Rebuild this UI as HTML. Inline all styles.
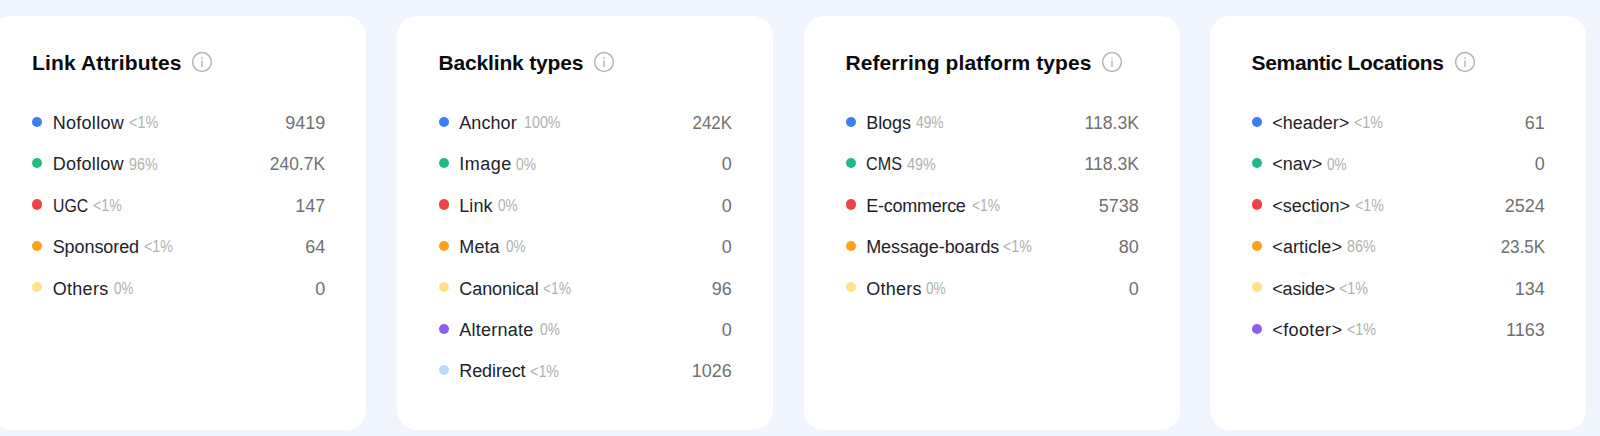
<!DOCTYPE html>
<html><head><meta charset="utf-8"><style>
html,body{margin:0;padding:0;}
body{width:1600px;height:436px;overflow:hidden;background:#f0f4fc;position:relative;font-family:"Liberation Sans",sans-serif;}
.card{position:absolute;top:15.5px;width:375.6px;height:414.8px;background:#fff;border-radius:20px;}
.t{position:absolute;font-weight:bold;font-size:21px;line-height:24px;color:#0b0b0f;white-space:nowrap;}
.ic{position:absolute;width:24px;height:24px;}
.d{position:absolute;width:10.3px;height:10.3px;border-radius:50%;}
.lb{position:absolute;transform-origin:0 50%;font-size:18px;line-height:22px;color:#22232a;white-space:nowrap;}
.pc{position:absolute;font-size:16.5px;line-height:22px;color:#b0b0b0;white-space:nowrap;transform-origin:0 50%;}
.nm{position:absolute;transform-origin:100% 50%;font-size:18px;line-height:22px;color:#707070;white-space:nowrap;text-align:right;width:120px;}
</style></head><body>

<div class="card" style="left:-9.30px"></div>
<div class="t" style="left:32.00px;top:50.7px;letter-spacing:0.143px">Link Attributes</div>
<svg class="ic" style="left:189.85px;top:49.85px" viewBox="0 0 24 24"><circle cx="12" cy="12" r="9.4" fill="none" stroke="#b3b6bb" stroke-width="1.5"/><line x1="12" y1="10.6" x2="12" y2="17" stroke="#b3b6bb" stroke-width="1.5"/><circle cx="12" cy="8.1" r="0.85" fill="#b3b6bb"/></svg>
<div class="d" style="left:32.10px;top:116.55px;background:#3d7df6"></div>
<div class="lb" style="left:52.70px;top:111.90px;letter-spacing:0.286px;transform:scaleX(1.0000)">Nofollow</div>
<div class="pc" style="left:129.23px;top:111.20px;transform:scaleX(0.8729)">&lt;1%</div>
<div class="nm" style="left:205.20px;top:111.90px;transform:scaleX(1.0000)">9419</div>
<div class="d" style="left:32.10px;top:157.96px;background:#20bc7f"></div>
<div class="lb" style="left:52.70px;top:153.31px;letter-spacing:0.266px;transform:scaleX(1.0000)">Dofollow</div>
<div class="pc" style="left:129.13px;top:152.61px;transform:scaleX(0.8653)">96%</div>
<div class="nm" style="left:205.20px;top:153.31px;transform:scaleX(0.9670)">240.7K</div>
<div class="d" style="left:32.10px;top:199.37px;background:#ef434b"></div>
<div class="lb" style="left:52.70px;top:194.72px;letter-spacing:0.000px;transform:scaleX(0.8782)">UGC</div>
<div class="pc" style="left:92.96px;top:194.02px;transform:scaleX(0.8593)">&lt;1%</div>
<div class="nm" style="left:205.20px;top:194.72px;transform:scaleX(1.0000)">147</div>
<div class="d" style="left:32.10px;top:240.78px;background:#ffa114"></div>
<div class="lb" style="left:52.70px;top:236.13px;letter-spacing:-0.080px;transform:scaleX(1.0000)">Sponsored</div>
<div class="pc" style="left:144.14px;top:235.43px;transform:scaleX(0.8632)">&lt;1%</div>
<div class="nm" style="left:205.20px;top:236.13px;transform:scaleX(1.0000)">64</div>
<div class="d" style="left:32.10px;top:282.19px;background:#ffe18a"></div>
<div class="lb" style="left:52.70px;top:277.54px;letter-spacing:0.292px;transform:scaleX(1.0000)">Others</div>
<div class="pc" style="left:113.93px;top:276.84px;transform:scaleX(0.8134)">0%</div>
<div class="nm" style="left:205.20px;top:277.54px;transform:scaleX(1.0000)">0</div>
<div class="card" style="left:397.30px"></div>
<div class="t" style="left:438.60px;top:50.7px;letter-spacing:-0.169px">Backlink types</div>
<svg class="ic" style="left:591.75px;top:49.85px" viewBox="0 0 24 24"><circle cx="12" cy="12" r="9.4" fill="none" stroke="#b3b6bb" stroke-width="1.5"/><line x1="12" y1="10.6" x2="12" y2="17" stroke="#b3b6bb" stroke-width="1.5"/><circle cx="12" cy="8.1" r="0.85" fill="#b3b6bb"/></svg>
<div class="d" style="left:438.70px;top:116.55px;background:#3d7df6"></div>
<div class="lb" style="left:459.30px;top:111.90px;letter-spacing:0.064px;transform:scaleX(1.0000)">Anchor</div>
<div class="pc" style="left:523.53px;top:111.20px;transform:scaleX(0.8666)">100%</div>
<div class="nm" style="left:611.80px;top:111.90px;transform:scaleX(0.9400)">242K</div>
<div class="d" style="left:438.70px;top:157.96px;background:#20bc7f"></div>
<div class="lb" style="left:459.30px;top:153.31px;letter-spacing:0.465px;transform:scaleX(1.0000)">Image</div>
<div class="pc" style="left:516.21px;top:152.61px;transform:scaleX(0.8412)">0%</div>
<div class="nm" style="left:611.80px;top:153.31px;transform:scaleX(1.0000)">0</div>
<div class="d" style="left:438.70px;top:199.37px;background:#ef434b"></div>
<div class="lb" style="left:459.30px;top:194.72px;letter-spacing:0.060px;transform:scaleX(1.0000)">Link</div>
<div class="pc" style="left:498.42px;top:194.02px;transform:scaleX(0.8305)">0%</div>
<div class="nm" style="left:611.80px;top:194.72px;transform:scaleX(1.0000)">0</div>
<div class="d" style="left:438.70px;top:240.78px;background:#ffa114"></div>
<div class="lb" style="left:459.30px;top:236.13px;letter-spacing:0.093px;transform:scaleX(1.0000)">Meta</div>
<div class="pc" style="left:506.06px;top:235.43px;transform:scaleX(0.8223)">0%</div>
<div class="nm" style="left:611.80px;top:236.13px;transform:scaleX(1.0000)">0</div>
<div class="d" style="left:438.70px;top:282.19px;background:#ffe18a"></div>
<div class="lb" style="left:459.30px;top:277.54px;letter-spacing:-0.085px;transform:scaleX(1.0000)">Canonical</div>
<div class="pc" style="left:542.95px;top:276.84px;transform:scaleX(0.8379)">&lt;1%</div>
<div class="nm" style="left:611.80px;top:277.54px;transform:scaleX(1.0000)">96</div>
<div class="d" style="left:438.70px;top:323.60px;background:#8a5cf5"></div>
<div class="lb" style="left:459.30px;top:318.95px;letter-spacing:0.250px;transform:scaleX(1.0000)">Alternate</div>
<div class="pc" style="left:539.60px;top:318.25px;transform:scaleX(0.8321)">0%</div>
<div class="nm" style="left:611.80px;top:318.95px;transform:scaleX(1.0000)">0</div>
<div class="d" style="left:438.70px;top:365.01px;background:#bcdafb"></div>
<div class="lb" style="left:459.30px;top:360.36px;letter-spacing:-0.103px;transform:scaleX(1.0000)">Redirect</div>
<div class="pc" style="left:530.21px;top:359.66px;transform:scaleX(0.8698)">&lt;1%</div>
<div class="nm" style="left:611.80px;top:360.36px;transform:scaleX(1.0000)">1026</div>
<div class="card" style="left:804.20px"></div>
<div class="t" style="left:845.50px;top:50.7px;letter-spacing:0.087px">Referring platform types</div>
<svg class="ic" style="left:1099.60px;top:49.85px" viewBox="0 0 24 24"><circle cx="12" cy="12" r="9.4" fill="none" stroke="#b3b6bb" stroke-width="1.5"/><line x1="12" y1="10.6" x2="12" y2="17" stroke="#b3b6bb" stroke-width="1.5"/><circle cx="12" cy="8.1" r="0.85" fill="#b3b6bb"/></svg>
<div class="d" style="left:845.60px;top:116.55px;background:#3d7df6"></div>
<div class="lb" style="left:866.20px;top:111.90px;letter-spacing:-0.035px;transform:scaleX(1.0000)">Blogs</div>
<div class="pc" style="left:916.19px;top:111.20px;transform:scaleX(0.8355)">49%</div>
<div class="nm" style="left:1018.70px;top:111.90px;transform:scaleX(0.9800)">118.3K</div>
<div class="d" style="left:845.60px;top:157.96px;background:#20bc7f"></div>
<div class="lb" style="left:866.20px;top:153.31px;letter-spacing:0.000px;transform:scaleX(0.8988)">CMS</div>
<div class="pc" style="left:907.04px;top:152.61px;transform:scaleX(0.8677)">49%</div>
<div class="nm" style="left:1018.70px;top:153.31px;transform:scaleX(0.9800)">118.3K</div>
<div class="d" style="left:845.60px;top:199.37px;background:#ef434b"></div>
<div class="lb" style="left:866.20px;top:194.72px;letter-spacing:-0.258px;transform:scaleX(1.0000)">E-commerce</div>
<div class="pc" style="left:971.56px;top:194.02px;transform:scaleX(0.8379)">&lt;1%</div>
<div class="nm" style="left:1018.70px;top:194.72px;transform:scaleX(1.0000)">5738</div>
<div class="d" style="left:845.60px;top:240.78px;background:#ffa114"></div>
<div class="lb" style="left:866.20px;top:236.13px;letter-spacing:-0.069px;transform:scaleX(1.0000)">Message-boards</div>
<div class="pc" style="left:1003.46px;top:235.43px;transform:scaleX(0.8634)">&lt;1%</div>
<div class="nm" style="left:1018.70px;top:236.13px;transform:scaleX(1.0000)">80</div>
<div class="d" style="left:845.60px;top:282.19px;background:#ffe18a"></div>
<div class="lb" style="left:866.20px;top:277.54px;letter-spacing:0.236px;transform:scaleX(1.0000)">Others</div>
<div class="pc" style="left:926.41px;top:276.84px;transform:scaleX(0.8281)">0%</div>
<div class="nm" style="left:1018.70px;top:277.54px;transform:scaleX(1.0000)">0</div>
<div class="card" style="left:1210.30px"></div>
<div class="t" style="left:1251.60px;top:50.7px;letter-spacing:-0.353px">Semantic Locations</div>
<svg class="ic" style="left:1453.00px;top:49.85px" viewBox="0 0 24 24"><circle cx="12" cy="12" r="9.4" fill="none" stroke="#b3b6bb" stroke-width="1.5"/><line x1="12" y1="10.6" x2="12" y2="17" stroke="#b3b6bb" stroke-width="1.5"/><circle cx="12" cy="8.1" r="0.85" fill="#b3b6bb"/></svg>
<div class="d" style="left:1251.70px;top:116.55px;background:#3d7df6"></div>
<div class="lb" style="left:1272.30px;top:111.90px;letter-spacing:-0.014px;transform:scaleX(1.0000)">&lt;header&gt;</div>
<div class="pc" style="left:1354.14px;top:111.20px;transform:scaleX(0.8632)">&lt;1%</div>
<div class="nm" style="left:1424.80px;top:111.90px;transform:scaleX(1.0000)">61</div>
<div class="d" style="left:1251.70px;top:157.96px;background:#20bc7f"></div>
<div class="lb" style="left:1272.30px;top:153.31px;letter-spacing:-0.025px;transform:scaleX(1.0000)">&lt;nav&gt;</div>
<div class="pc" style="left:1327.08px;top:152.61px;transform:scaleX(0.8281)">0%</div>
<div class="nm" style="left:1424.80px;top:153.31px;transform:scaleX(1.0000)">0</div>
<div class="d" style="left:1251.70px;top:199.37px;background:#ef434b"></div>
<div class="lb" style="left:1272.30px;top:194.72px;letter-spacing:-0.045px;transform:scaleX(1.0000)">&lt;section&gt;</div>
<div class="pc" style="left:1355.14px;top:194.02px;transform:scaleX(0.8634)">&lt;1%</div>
<div class="nm" style="left:1424.80px;top:194.72px;transform:scaleX(1.0000)">2524</div>
<div class="d" style="left:1251.70px;top:240.78px;background:#ffa114"></div>
<div class="lb" style="left:1272.30px;top:236.13px;letter-spacing:0.080px;transform:scaleX(1.0000)">&lt;article&gt;</div>
<div class="pc" style="left:1346.59px;top:235.43px;transform:scaleX(0.8653)">86%</div>
<div class="nm" style="left:1424.80px;top:236.13px;transform:scaleX(0.9430)">23.5K</div>
<div class="d" style="left:1251.70px;top:282.19px;background:#ffe18a"></div>
<div class="lb" style="left:1272.30px;top:277.54px;letter-spacing:-0.197px;transform:scaleX(1.0000)">&lt;aside&gt;</div>
<div class="pc" style="left:1338.93px;top:276.84px;transform:scaleX(0.8632)">&lt;1%</div>
<div class="nm" style="left:1424.80px;top:277.54px;transform:scaleX(1.0000)">134</div>
<div class="d" style="left:1251.70px;top:323.60px;background:#8a5cf5"></div>
<div class="lb" style="left:1272.30px;top:318.95px;letter-spacing:0.377px;transform:scaleX(1.0000)">&lt;footer&gt;</div>
<div class="pc" style="left:1346.59px;top:318.25px;transform:scaleX(0.8663)">&lt;1%</div>
<div class="nm" style="left:1424.80px;top:318.95px;transform:scaleX(1.0000)">1163</div>
</body></html>
